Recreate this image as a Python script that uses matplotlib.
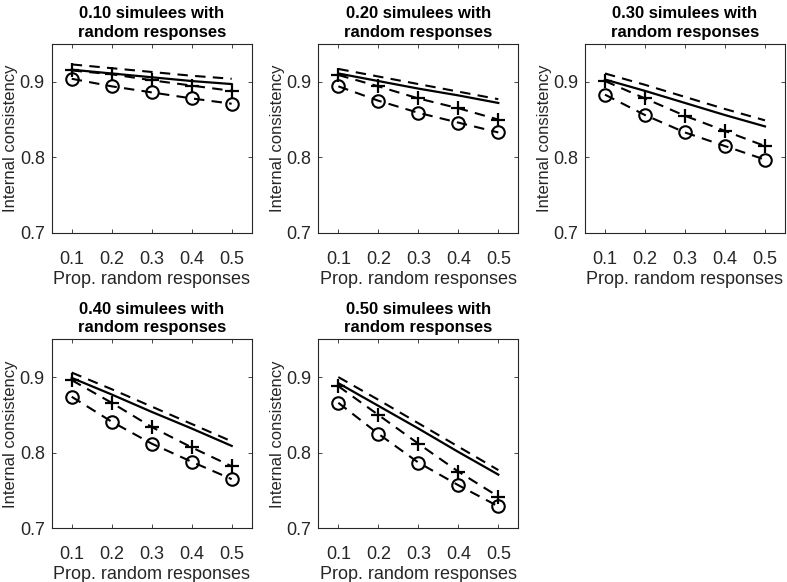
import matplotlib
matplotlib.use("Agg")
import matplotlib.pyplot as plt

plt.rcParams['font.family'] = ['Liberation Sans', 'DejaVu Sans']

x = [0.1, 0.2, 0.3, 0.4, 0.5]
titles = ["0.10 simulees with\nrandom responses",
          "0.20 simulees with\nrandom responses",
          "0.30 simulees with\nrandom responses",
          "0.40 simulees with\nrandom responses",
          "0.50 simulees with\nrandom responses"]

# top dashed line (no markers)
upper = [
    [0.923, 0.918, 0.913, 0.908, 0.904],
    [0.917, 0.907, 0.897, 0.887, 0.877],
    [0.911, 0.896, 0.880, 0.864, 0.849],
    [0.906, 0.884, 0.861, 0.838, 0.815],
    [0.900, 0.870, 0.839, 0.808, 0.777],
]
# solid line
solid = [
    [0.916, 0.911, 0.906, 0.901, 0.897],
    [0.911, 0.901, 0.891, 0.882, 0.872],
    [0.903, 0.888, 0.872, 0.856, 0.841],
    [0.899, 0.877, 0.854, 0.832, 0.809],
    [0.892, 0.862, 0.832, 0.801, 0.771],
]
# dashed with plus markers
plus = [
    [0.915, 0.910, 0.902, 0.895, 0.888],
    [0.909, 0.894, 0.878, 0.865, 0.850],
    [0.901, 0.878, 0.855, 0.835, 0.815],
    [0.896, 0.866, 0.834, 0.807, 0.782],
    [0.888, 0.850, 0.812, 0.775, 0.742],
]
# dashed with circle markers
circ = [
    [0.904, 0.894, 0.886, 0.878, 0.871],
    [0.894, 0.875, 0.859, 0.846, 0.833],
    [0.883, 0.856, 0.833, 0.815, 0.797],
    [0.874, 0.841, 0.812, 0.788, 0.765],
    [0.866, 0.825, 0.787, 0.757, 0.729],
]

fig = plt.figure(figsize=(7.87, 5.82), dpi=100)
lefts = [0.0657, 0.4045, 0.7433]
bottoms = [0.5997, 0.0923]
w, h = 0.2541, 0.3247
dash = (0, (5, 3.5))

for i in range(5):
    r, c = divmod(i, 3)
    ax = fig.add_axes([lefts[c], bottoms[r], w, h])
    ax.plot(x, upper[i], color='k', lw=1.5, linestyle=dash)
    ax.plot(x, solid[i], color='k', lw=1.6, linestyle='-')
    ax.plot(x, plus[i], color='k', lw=1.5, linestyle=dash, marker='+',
            markersize=10, markeredgewidth=1.6)
    ax.plot(x, circ[i], color='k', lw=1.5, linestyle=dash, marker='o',
            markersize=9, markerfacecolor='none', markeredgewidth=1.5)
    ax.set_xlim(0.05, 0.55)
    ax.set_ylim(0.7, 0.95)
    ax.set_xticks(x)
    ax.set_xticklabels(['0.1', '0.2', '0.3', '0.4', '0.5'])
    ax.set_yticks([0.7, 0.8, 0.9])
    ax.set_yticklabels(['0.7', '0.8', '0.9'])
    ax.tick_params(direction='in', top=True, right=True, length=3,
                   labelsize=13, colors='#262626', width=0.6)
    ax.tick_params(axis='x', pad=13)
    ax.tick_params(axis='y', pad=5)
    for s in ax.spines.values():
        s.set_color('#262626')
        s.set_linewidth(0.8)
    ax.set_xlabel('Prop. random responses', fontsize=13, color='#262626',
                  labelpad=2)
    ax.set_ylabel('Internal consistency', fontsize=12, color='#262626',
                  labelpad=1)
    ax.set_title(titles[i], fontsize=12, fontweight='bold', pad=5,
                 family=['Liberation Sans Narrow', 'Liberation Sans', 'DejaVu Sans'],
                 linespacing=1.3)

fig.savefig('out.png', dpi=100)
